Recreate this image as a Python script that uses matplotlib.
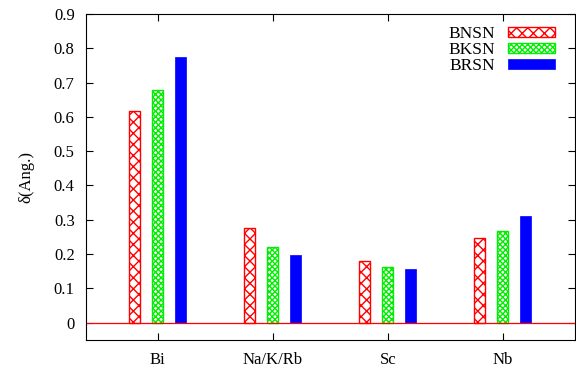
import matplotlib
matplotlib.use("Agg")
import matplotlib.pyplot as plt
import numpy as np

plt.rcParams['font.family'] = ['Liberation Serif', 'DejaVu Serif']
plt.rcParams['hatch.linewidth'] = 1.0

categories = ['Bi', 'Na/K/Rb', 'Sc', 'Nb']
bnsn = [0.618, 0.277, 0.180, 0.247]
bksn = [0.679, 0.222, 0.163, 0.268]
brsn = [0.775, 0.198, 0.157, 0.312]

x = np.arange(1, len(categories) + 1)
width = 0.095

fig = plt.figure(figsize=(5.76, 3.67), dpi=100)
ax = fig.add_axes([0.149, 0.074, 0.849, 0.888])

ax.bar(x - 0.2, bnsn, width, facecolor='white', edgecolor='red', hatch='xxx',
       linewidth=1.0, label='BNSN')
ax.bar(x, bksn, width, facecolor='white', edgecolor='#00ee00', hatch='xxxxxx',
       linewidth=1.0, label='BKSN')
ax.bar(x + 0.2, brsn, width, color='blue', edgecolor='blue', linewidth=0.5,
       label='BRSN')

ax.axhline(0, color='#ff0000', linewidth=0.9)

ax.set_xlim(0.375, 4.625)
ax.set_ylim(-0.05, 0.9)
ax.set_xticks(x)
ax.set_xticklabels(categories)
ax.set_yticks(np.arange(0, 0.91, 0.1))
ax.set_yticklabels(['0'] + ['%.1f' % v for v in np.arange(0.1, 0.91, 0.1)])
ax.tick_params(direction='in', top=True, right=True, labelsize=12, length=5)
ax.tick_params(axis='x', pad=9)
ax.tick_params(axis='y', pad=8)
ax.set_ylabel('δ(Ang.)', fontsize=12, labelpad=14)

ax.legend(loc='upper right', frameon=False, markerfirst=False, fontsize=12.5,
          handlelength=2.75, handleheight=0.55, labelspacing=0.0,
          handletextpad=0.7, borderaxespad=0.3, bbox_to_anchor=(0.985, 1.0))

plt.savefig('out.png', dpi=100)
